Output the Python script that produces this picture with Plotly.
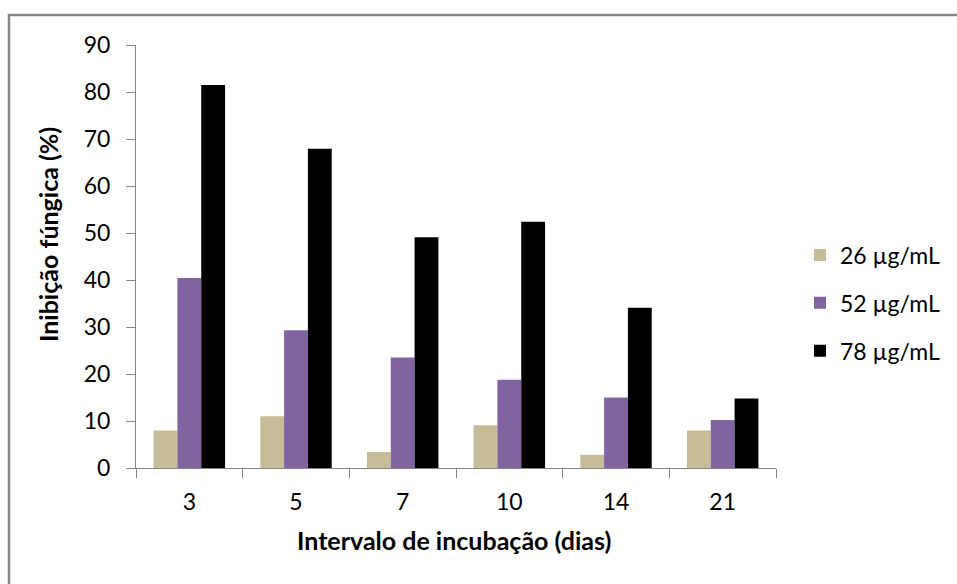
import plotly.graph_objects as go

# Incubation intervals (days) and fungal inhibition (%) per concentration
dias = ["3", "5", "7", "10", "14", "21"]
conc_26 = [8.0, 11.0, 3.4, 9.1, 2.8, 8.0]
conc_52 = [40.4, 29.3, 23.5, 18.8, 15.0, 10.2]
conc_78 = [81.5, 67.9, 49.1, 52.4, 34.1, 14.8]

series_names = ["26 µg/mL", "52 µg/mL", "78 µg/mL"]
series_colors = ["#C4BD97", "#8064A2", "#000000"]

W, H = 957, 584
FONT = "Lato, 'Open Sans', sans-serif"
AXIS_GRAY = "#868686"
TICK_SIZE = 23
TITLE_SIZE = 25

fig = go.Figure()
for name, vals, color in zip(series_names, [conc_26, conc_52, conc_78], series_colors):
    fig.add_trace(go.Bar(
        x=dias, y=vals, name=name, legendgroup=name,
        marker=dict(color=color, line=dict(width=0)),
    ))

fig.update_layout(
    width=W, height=H,
    margin=dict(l=0, r=0, t=0, b=0, autoexpand=False),
    paper_bgcolor="white", plot_bgcolor="white",
    barmode="group", bargap=0.33, bargroupgap=0,
    font=dict(family=FONT, size=TICK_SIZE, color="#000000"),
    showlegend=True,
    legend=dict(
        x=800 / W, xanchor="left",
        y=1 - 303 / H, yanchor="middle",
        font=dict(family=FONT, size=TICK_SIZE, color="#000000"),
        tracegroupgap=15,
        bgcolor="rgba(0,0,0,0)",
    ),
    xaxis=dict(
        domain=[136 / W, 776 / W],
        type="category", automargin=False,
        showline=True, linecolor=AXIS_GRAY, linewidth=1,
        ticks="outside", tickson="boundaries", ticklen=9,
        tickcolor=AXIS_GRAY, tickwidth=1,
        showgrid=False, zeroline=False,
        tickfont=dict(family=FONT, size=TICK_SIZE, color="#000000"),
        ticklabelstandoff=13,
    ),
    yaxis=dict(
        domain=[1 - 468 / H, 1 - 45 / H],
        range=[0, 90], dtick=10, tick0=0, automargin=False,
        showline=True, linecolor=AXIS_GRAY, linewidth=1,
        ticks="outside", ticklen=9, tickcolor=AXIS_GRAY, tickwidth=1,
        showgrid=False, zeroline=False,
        tickfont=dict(family=FONT, size=TICK_SIZE, color="#000000"),
        ticklabelstandoff=11,
    ),
    shapes=[dict(
        type="rect", xref="paper", yref="paper",
        x0=9 / W, x1=1.05, y0=-0.05, y1=1 - 15 / H,
        line=dict(color=AXIS_GRAY, width=2.5),
        fillcolor="rgba(0,0,0,0)", layer="below",
    )],
    annotations=[
        dict(
            text="<b>Intervalo de incubação (dias)</b>",
            xref="paper", yref="paper",
            x=454 / W, y=1 - 540 / H,
            xanchor="center", yanchor="middle", showarrow=False,
            font=dict(family=FONT, size=TITLE_SIZE, color="#000000"),
        ),
        dict(
            text="<b>Inibição fúngica (%)</b>",
            xref="paper", yref="paper",
            x=48 / W, y=1 - 235 / H, textangle=-90,
            xanchor="center", yanchor="middle", showarrow=False,
            font=dict(family=FONT, size=TITLE_SIZE, color="#000000"),
        ),
    ],
)

fig.write_html("out.html")
